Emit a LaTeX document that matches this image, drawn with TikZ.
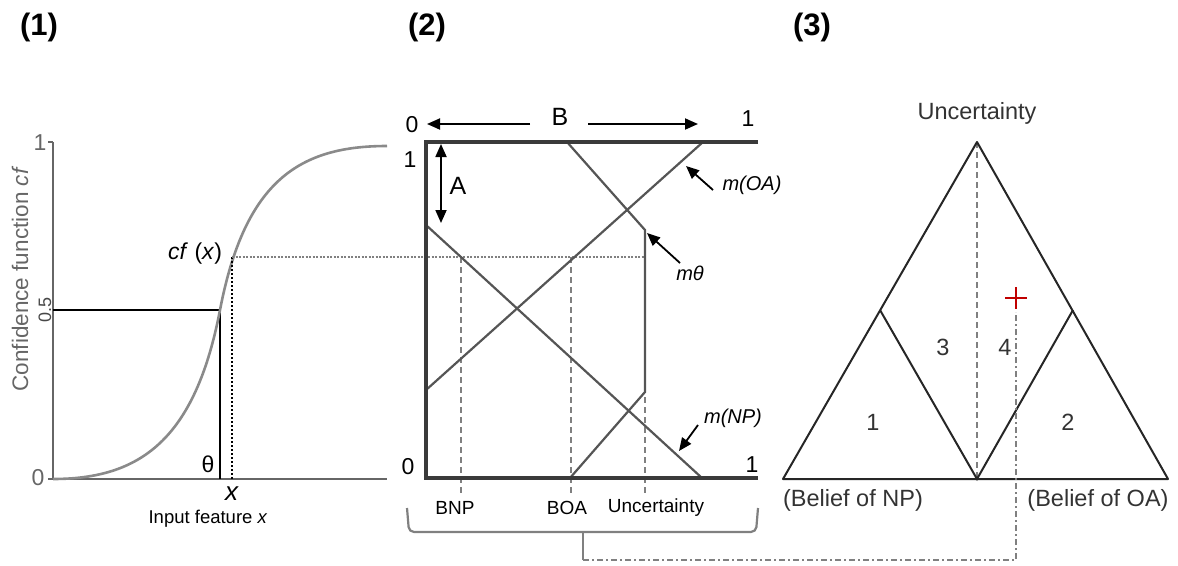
\documentclass[tikz,border=0pt]{standalone}
\usepackage{fontspec}
\setmainfont{Liberation Sans}
\usetikzlibrary{arrows.meta,calc}
\newcommand\fsz[1]{\fontsize{#1}{#1}\selectfont}
\definecolor{axgray}{HTML}{666666}
\definecolor{curvegray}{HTML}{8A8A8A}
\definecolor{framegray}{HTML}{3A3A3A}
\definecolor{linegray}{HTML}{555555}
\definecolor{dotgray}{HTML}{808080}
\definecolor{plusred}{HTML}{C00000}
\begin{document}
\begin{tikzpicture}[x=1pt,y=-1pt,
  lbl/.style={inner sep=0pt,outer sep=0pt,anchor=center},
  panelnum/.style={lbl,font=\fsz{31}\bfseries},
  big/.style={lbl,font=\fsz{23}},
  mid/.style={lbl,font=\fsz{19}},
  axisline/.style={axgray,line width=2.5pt},
  framel/.style={framegray,line width=3.5pt},
  diag/.style={linegray,line width=2.2pt},
  dotl/.style={dotgray,line width=2.2pt,dash pattern=on 2pt off 1.5pt},
  blackdot/.style={black,line width=2pt,dash pattern=on 2pt off 2pt},
  dashv/.style={dotgray,line width=2.2pt,dash pattern=on 6pt off 4pt},
  arr/.style={black,line width=1.8pt,-{Triangle[length=13pt,width=11pt]}},
  darr/.style={black,line width=1.8pt,{Triangle[length=13pt,width=11pt]}-{Triangle[length=13pt,width=11pt]}},
  tri/.style={black!85,line width=2pt},
  tritext/.style={lbl,font=\fsz{23.5},text=black!80},
  dashdot/.style={dotgray,line width=2.2pt,dash pattern=on 6pt off 3pt on 2pt off 3pt},
]
\useasboundingbox (0,0) rectangle (1178,565);

% panel numbers
\node[panelnum] (n1) at (39,27) {(1)};
\node[panelnum] (n2) at (427,27) {(2)};
\node[panelnum] (n3) at (812,27) {(3)};

%================ Panel 1
\coordinate (o1) at (53,479);
\coordinate (ytop) at (53,142);
\coordinate (xend) at (387,479);
\coordinate (r1) at (53,310);
\coordinate (r2) at (220,310);
\coordinate (r3) at (220,479);
\coordinate (cfpt) at (232,257);
\coordinate (xpt) at (232,479);
\coordinate (ctop) at (387,146);
\draw[axisline] (ytop) -- (o1) -- (xend);
\draw[axisline] (ytop) -- ++(-5,0);
\draw[axisline] (o1) -- ++(-5,0);
\draw[black,line width=1.8pt] (r1) -- (r2) -- (r3);
\draw[curvegray,line width=2.6pt] (o1) .. controls (140,479) and (195,440) .. (r2)
   .. controls (245,180) and (300,146) .. (ctop);
\draw[blackdot] (cfpt) -- (xpt);
\node[big,text=axgray] (one1) at (40,143) {1};
\node[big,text=axgray] (zero1) at (38,478) {0};
\node[lbl,font=\fsz{18},rotate=90,text=axgray!70!black] (half) at (45,310) {0.5};
\node[lbl,font=\fsz{22.5},rotate=90,text=axgray] (ylab) at (20,279) {Confidence function \textit{cf}};
\node[big,anchor=east] (cfx) at (222,254) {\textit{cf} (\textit{x})};
\node[big] (theta) at (208,464) {θ};
\node[lbl,font=\fsz{26}] (xlab) at (232,494) {\textit{x}};
\node[lbl,font=\fsz{18.5}] (inlab) at (208,519) {Input feature \textit{x}};

%================ Panel 2
\coordinate (tl) at (426,142);
\coordinate (bl) at (426,478);
\coordinate (tr) at (758,142);
\coordinate (br) at (758,478);
\coordinate (npA) at (426,225);
\coordinate (npB) at (702,478);
\coordinate (oaA) at (426,390);
\coordinate (oaB) at (703,142);
\coordinate (thA) at (567,142);
\coordinate (thB) at (645,230);
\coordinate (thC) at (645,392);
\coordinate (thD) at (570,478);
\coordinate (dR) at (645,257);
\coordinate (bnpT) at (461,257);
\coordinate (bnpB) at (461,495);
\coordinate (boaT) at (571,257);
\coordinate (boaB) at (571,495);
\coordinate (unT) at (645,257);
\coordinate (unB) at (645,495);

\draw[dotl] (cfpt) -- (dR);
\draw[dashv] (bnpT) -- (bnpB);
\draw[dashv] (boaT) -- (boaB);
\draw[dashv] (unT) -- (unB);
\draw[diag] (npA) -- (npB);
\draw[diag] (oaA) -- (oaB);
\draw[diag] (thA) -- (thB) -- (thC) -- (thD);
\draw[framel] (tr) -- (tl) -- (bl) -- (br);

\node[big] (z2t) at (412,125) {0};
\node[big] (o2t) at (410,160) {1};
\node[big] (o2r) at (748,119) {1};
\node[big] (z2b) at (408,467) {0};
\node[big] (o2b) at (752,465) {1};
\node[lbl,font=\fsz{25}] (B) at (560,117) {B};
\node[lbl,font=\fsz{25}] (A) at (458,186) {A};
\coordinate (bl1) at (530,124);
\coordinate (bl2) at (427,124);
\coordinate (br1) at (588,124);
\coordinate (br2) at (698,124);
\draw[arr] (bl1) -- (bl2);
\draw[arr] (br1) -- (br2);
\coordinate (a1) at (441,144);
\coordinate (a2) at (441,223);
\draw[darr] (a1) -- (a2);

\node[lbl,font=\fsz{20}\itshape] (mOA) at (752,185) {m(OA)};
\node[lbl,font=\fsz{20}\itshape] (mTh) at (690,273) {mθ};
\node[lbl,font=\fsz{20}\itshape] (mNP) at (733,418) {m(NP)};
\coordinate (aoa1) at (713,190);
\coordinate (aoa2) at (686,166);
\coordinate (ath1) at (680,263);
\coordinate (ath2) at (647,233);
\coordinate (anp1) at (698,425);
\coordinate (anp2) at (679,451);
\draw[arr] (aoa1) -- (aoa2);
\draw[arr] (ath1) -- (ath2);
\draw[arr] (anp1) -- (anp2);

\node[mid] (bnp) at (455,508) {BNP};
\node[mid] (boa) at (567,508) {BOA};
\node[mid] (unc2) at (656,508) {Uncertainty};

% brace
\coordinate (brL) at (407,508);
\coordinate (brR) at (758,508);
\coordinate (brM) at (583,532);
\coordinate (brT) at (583,560);
\draw[dotgray,line width=2.2pt,rounded corners=5pt] (brL) -- (409,532) -- (brM) -- (756,532) -- (brR);
\draw[dotgray,line width=2.2pt] (brM) -- (brT);

%================ Panel 3
\coordinate (apex) at (977,142);
\coordinate (bL) at (783,479);
\coordinate (bR) at (1168,479);
\coordinate (bM) at (977,479);
\coordinate (mL) at (880,310);
\coordinate (mR) at (1073,310);
\draw[dashv] (apex) -- (bM);
\draw[tri,line join=round] (apex) -- (bL) -- (bR) -- cycle;
\draw[tri] (mL) -- (bM) -- (mR);
\node[tritext] (unc3) at (977,113) {Uncertainty};
\node[tritext] (r1n) at (873,422) {1};
\node[tritext] (r2n) at (1068,422) {2};
\node[tritext] (r3n) at (943,347) {3};
\node[tritext] (r4n) at (1005,347) {4};
\node[tritext] (bnp3) at (853,500) {(Belief of NP)};
\node[tritext] (boa3) at (1098,500) {(Belief of OA)};
\coordinate (plus) at (1016,298);
\draw[plusred,line width=2.4pt] ($(plus)+(-11,0)$) -- ($(plus)+(11,0)$);
\draw[plusred,line width=2.4pt] ($(plus)+(0,-11)$) -- ($(plus)+(0,11)$);
\coordinate (ddC) at (1016,560);
\coordinate (ddT) at (1016,312);
\draw[dashdot] (brT) -- (ddC) -- (ddT);
\end{tikzpicture}
\end{document}
